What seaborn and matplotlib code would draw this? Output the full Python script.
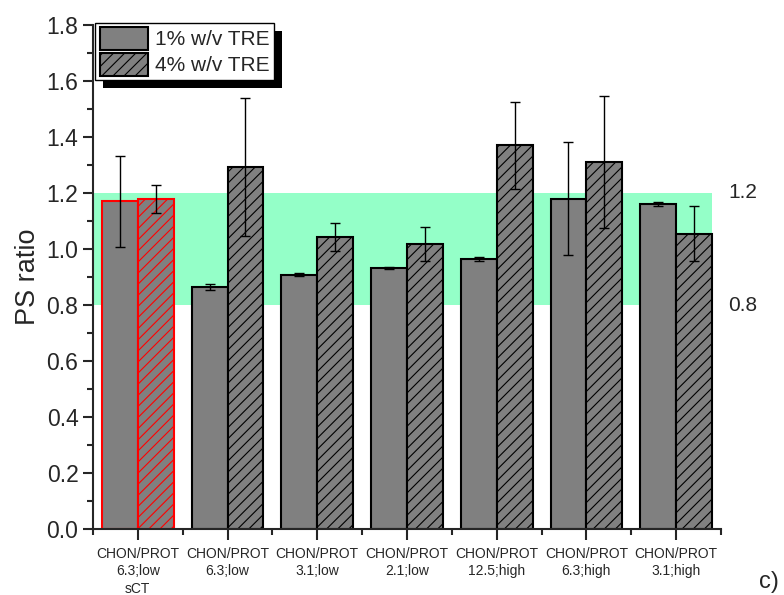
import matplotlib

matplotlib.use("Agg")
import matplotlib.pyplot as plt
import matplotlib.transforms as mtransforms
from matplotlib.patches import Rectangle
from matplotlib.ticker import MultipleLocator, FixedLocator, FormatStrFormatter
import pandas as pd
import seaborn as sns

categories = [
    "CHON/PROT\n6.3;low\nsCT",
    "CHON/PROT\n6.3;low",
    "CHON/PROT\n3.1;low",
    "CHON/PROT\n2.1;low",
    "CHON/PROT\n12.5;high",
    "CHON/PROT\n6.3;high",
    "CHON/PROT\n3.1;high",
]
series = ["1% w/v TRE", "4% w/v TRE"]
tre1_mean = [1.17, 0.865, 0.908, 0.933, 0.965, 1.18, 1.16]
tre1_err = [0.162, 0.010, 0.005, 0.004, 0.008, 0.203, 0.007]
tre4_mean = [1.178, 1.292, 1.042, 1.018, 1.37, 1.31, 1.055]
tre4_err = [0.05, 0.247, 0.05, 0.062, 0.155, 0.235, 0.097]
band_low, band_high = 0.8, 1.2

frame = pd.DataFrame(
    {
        "condition": categories * 2,
        "series": [series[0]] * len(categories) + [series[1]] * len(categories),
        "ratio": tre1_mean + tre4_mean,
    }
)

sns.set_style("ticks")
plt.rcParams["font.family"] = ["Liberation Sans", "DejaVu Sans"]
plt.rcParams["hatch.linewidth"] = 0.8

fig = plt.figure(figsize=(7.84, 5.95), dpi=100)
ax = fig.add_axes([0.1186, 0.1109, 0.8010, 0.8471])

# acceptance band
ax.axhspan(band_low, band_high, xmin=0, xmax=0.986, color="#94ffc8", lw=0, zorder=0)

sns.barplot(
    data=frame,
    x="condition",
    y="ratio",
    hue="series",
    palette=["#808080", "#808080"],
    width=0.8,
    errorbar=None,
    saturation=1,
    edgecolor="black",
    linewidth=1.5,
    ax=ax,
    zorder=2,
)

bar_containers = list(ax.containers)
for idx, container in enumerate(bar_containers):
    errs = tre1_err if idx == 0 else tre4_err
    for j, bar in enumerate(container.patches):
        if idx == 1:
            bar.set_hatch("///")
        if j == 0:
            bar.set_edgecolor("red")
        xc = bar.get_x() + bar.get_width() / 2
        ax.errorbar(
            xc, bar.get_height(), yerr=errs[j], color="black", lw=1,
            capsize=3.3, capthick=1, zorder=3,
        )

ax.set_xlim(-0.5, len(categories) - 0.5)
ax.set_ylim(0, 1.8)
ax.yaxis.set_major_locator(MultipleLocator(0.2))
ax.yaxis.set_minor_locator(MultipleLocator(0.1))
ax.xaxis.set_minor_locator(FixedLocator([i - 0.5 for i in range(len(categories) + 1)]))
ax.yaxis.set_major_formatter(FormatStrFormatter("%.1f"))

ax.set_xlabel("")
ax.set_ylabel("PS ratio", fontsize=19.5, labelpad=4)
ax.tick_params(axis="y", which="major", labelsize=16.5, length=7, width=1.5)
ax.tick_params(axis="y", which="minor", length=4, width=1.5)
ax.tick_params(axis="x", which="major", labelsize=10, length=8, width=1.5, pad=5)
ax.tick_params(axis="x", which="minor", length=4, width=1.5)
for lbl in ax.get_xticklabels():
    lbl.set_linespacing(1.3)

sns.despine(ax=ax)
for side in ["left", "bottom"]:
    ax.spines[side].set_linewidth(1.5)

trans = mtransforms.blended_transform_factory(ax.transAxes, ax.transData)
for yv in (band_high, band_low):
    ax.text(1.012, yv, f"{yv:.1f}", transform=trans, va="center", ha="left", fontsize=15)

leg = ax.legend(
    loc="upper left", bbox_to_anchor=(0.004, 1.004), fontsize=15, frameon=True,
    fancybox=False, borderpad=0.2, handlelength=2.3, handleheight=1.3,
    handletextpad=0.35, labelspacing=0.15, borderaxespad=0,
)
leg.get_frame().set_edgecolor("black")
leg.get_frame().set_linewidth(1)
leg.get_frame().set_alpha(1)
leg_patches = leg.get_patches()
if len(leg_patches) >= 2:
    leg_patches[1].set_hatch("///")

# offset black drop shadow behind the legend
fig.canvas.draw()
bb = leg.get_window_extent()
shadow = Rectangle(
    (bb.x0 + 8, bb.y0 - 8), bb.width, bb.height, transform=None,
    facecolor="black", edgecolor="none", zorder=leg.get_zorder() - 0.1,
)
ax.add_artist(shadow)

fig.text(0.968, 0.004, "c)", fontsize=17, ha="left", va="bottom")

fig.savefig("out.png", dpi=100)
